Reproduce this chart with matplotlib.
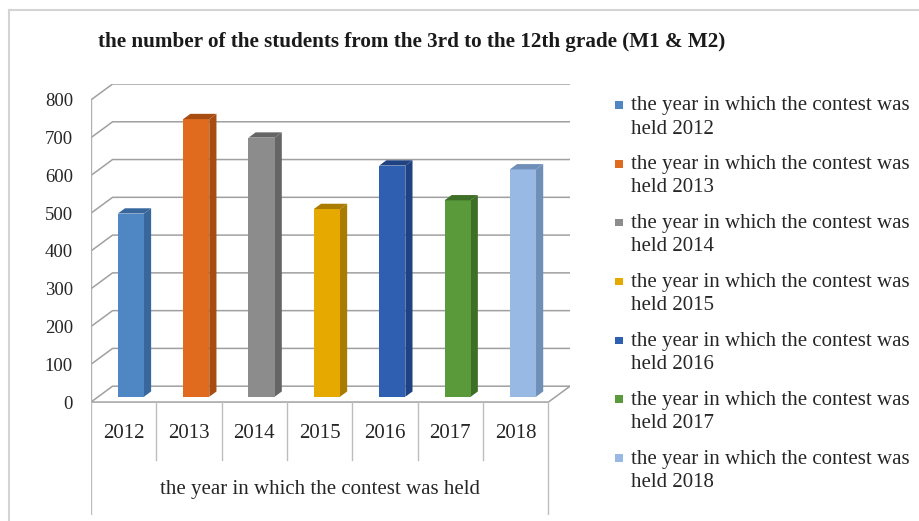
import matplotlib
matplotlib.use("Agg")
import matplotlib.pyplot as plt
from matplotlib.patches import Polygon, Rectangle
from matplotlib.legend_handler import HandlerPatch
from matplotlib.lines import Line2D

plt.rcParams["font.family"] = ["Liberation Serif", "DejaVu Serif"]

# data
years = ["2012", "2013", "2014", "2015", "2016", "2017", "2018"]
students = [485, 735, 686, 497, 612, 520, 602]
front_colors = ["#4f87c4", "#e06a1e", "#8c8c8c", "#e5a900", "#2f5fb0", "#5b9a3b", "#97b9e3"]
side_colors = ["#37679c", "#a84d12", "#656565", "#a97c00", "#1f4282", "#3f6e27", "#6f8fb8"]
yticks = [0, 100, 200, 300, 400, 500, 600, 700, 800]
title = "the number of the students from the 3rd to the 12th grade (M1 & M2)"
xlabel = "the year in which the contest was held"

# fake 3d depth (in data units)
DX, DY = 0.33, 42
BW = 0.4
FX, FY = 0.11, 14  # bar front offset inside the floor depth
BX, BY = 0.11, 14  # bar depth

W, H = 919, 521
fig = plt.figure(figsize=(W / 100, H / 100), dpi=100)

# chart area border (top and left)
fig.add_artist(Line2D([9 / W, 1], [1 - 10 / H, 1 - 10 / H], color="#d4d4d4", lw=1.5))
fig.add_artist(Line2D([9 / W, 9 / W], [0, 1 - 10 / H], color="#d4d4d4", lw=1.5))

ax = fig.add_axes([91 / W, (H - 515) / H, (570 - 91) / W, (515 - 84) / H])
ax.set_xlim(-0.5, 6.5 + DX)
ax.set_ylim(-299, 800 + DY)
for s in ax.spines.values():
    s.set_visible(False)

grid = "#a0a0a0"
x0, x1 = -0.5, 6.5
for v in yticks:
    ax.plot([x0, x0 + DX, x1 + DX], [v, v + DY, v + DY], color=grid, lw=1.1, zorder=1)
ax.plot([x0, x0], [0, 800], color="#b0b0b0", lw=1.0, zorder=1)
ax.plot([x0, x1, x1 + DX], [0, 0, DY], color=grid, lw=1.1, zorder=1)

# category table below the floor
for i in range(1, 7):
    ax.plot([i - 0.5, i - 0.5], [0, -154], color="#bdbdbd", lw=1.0)
ax.plot([x0, x0], [0, -299], color="#bdbdbd", lw=1.0)
ax.plot([x1, x1], [0, -299], color="#bdbdbd", lw=1.0)
for i, y in enumerate(years):
    ax.text(i, -82, y, ha="center", va="center", fontsize=15, color="#262626")
ax.text(3, -232, xlabel, ha="center", va="center", fontsize=15, color="#262626")

xs = list(range(len(years)))
bars = ax.bar([x + FX for x in xs], students, width=BW, bottom=FY,
              color=front_colors, zorder=3)
for x, v, sc in zip(xs, students, side_colors):
    r = x + FX + BW / 2
    l = x + FX - BW / 2
    top = FY + v
    ax.add_patch(Polygon([(r, FY), (r + BX, FY + BY), (r + BX, top + BY), (r, top)],
                         closed=True, facecolor=sc, edgecolor="none", zorder=2))
    ax.add_patch(Polygon([(l, top), (r, top), (r + BX, top + BY), (l + BX, top + BY)],
                         closed=True, facecolor=sc, edgecolor="none", zorder=3))

ax.set_yticks(yticks)
ax.set_yticklabels([str(t) for t in yticks], fontsize=13.5, color="#262626")
ax.tick_params(axis="y", length=0, pad=13)
ax.set_xticks([])

fig.text(412 / W, 1 - 42 / H, title, ha="center", va="center",
         fontsize=15.2, fontweight="bold", color="#1a1a1a")


def square(legend, orig_handle, xdescent, ydescent, width, height, fontsize):
    s = 5.5
    return Rectangle((-xdescent, -ydescent + height / 2 + 6), s, s)


labels = ["the year in which the contest was\nheld " + y for y in years]
leg = ax.legend(bars, labels, loc="upper left",
                bbox_to_anchor=(605 / W, 1 - 86 / H), bbox_transform=fig.transFigure,
                frameon=False, fontsize=15, handlelength=0.4, handleheight=0.4,
                handletextpad=0.35, labelspacing=0.8, borderpad=0,
                handler_map={bars.patches[0].__class__: HandlerPatch(patch_func=square)})
for t in leg.get_texts():
    t.set_color("#262626")
    t.set_linespacing(1.3)

fig.savefig("out.png", dpi=100)
